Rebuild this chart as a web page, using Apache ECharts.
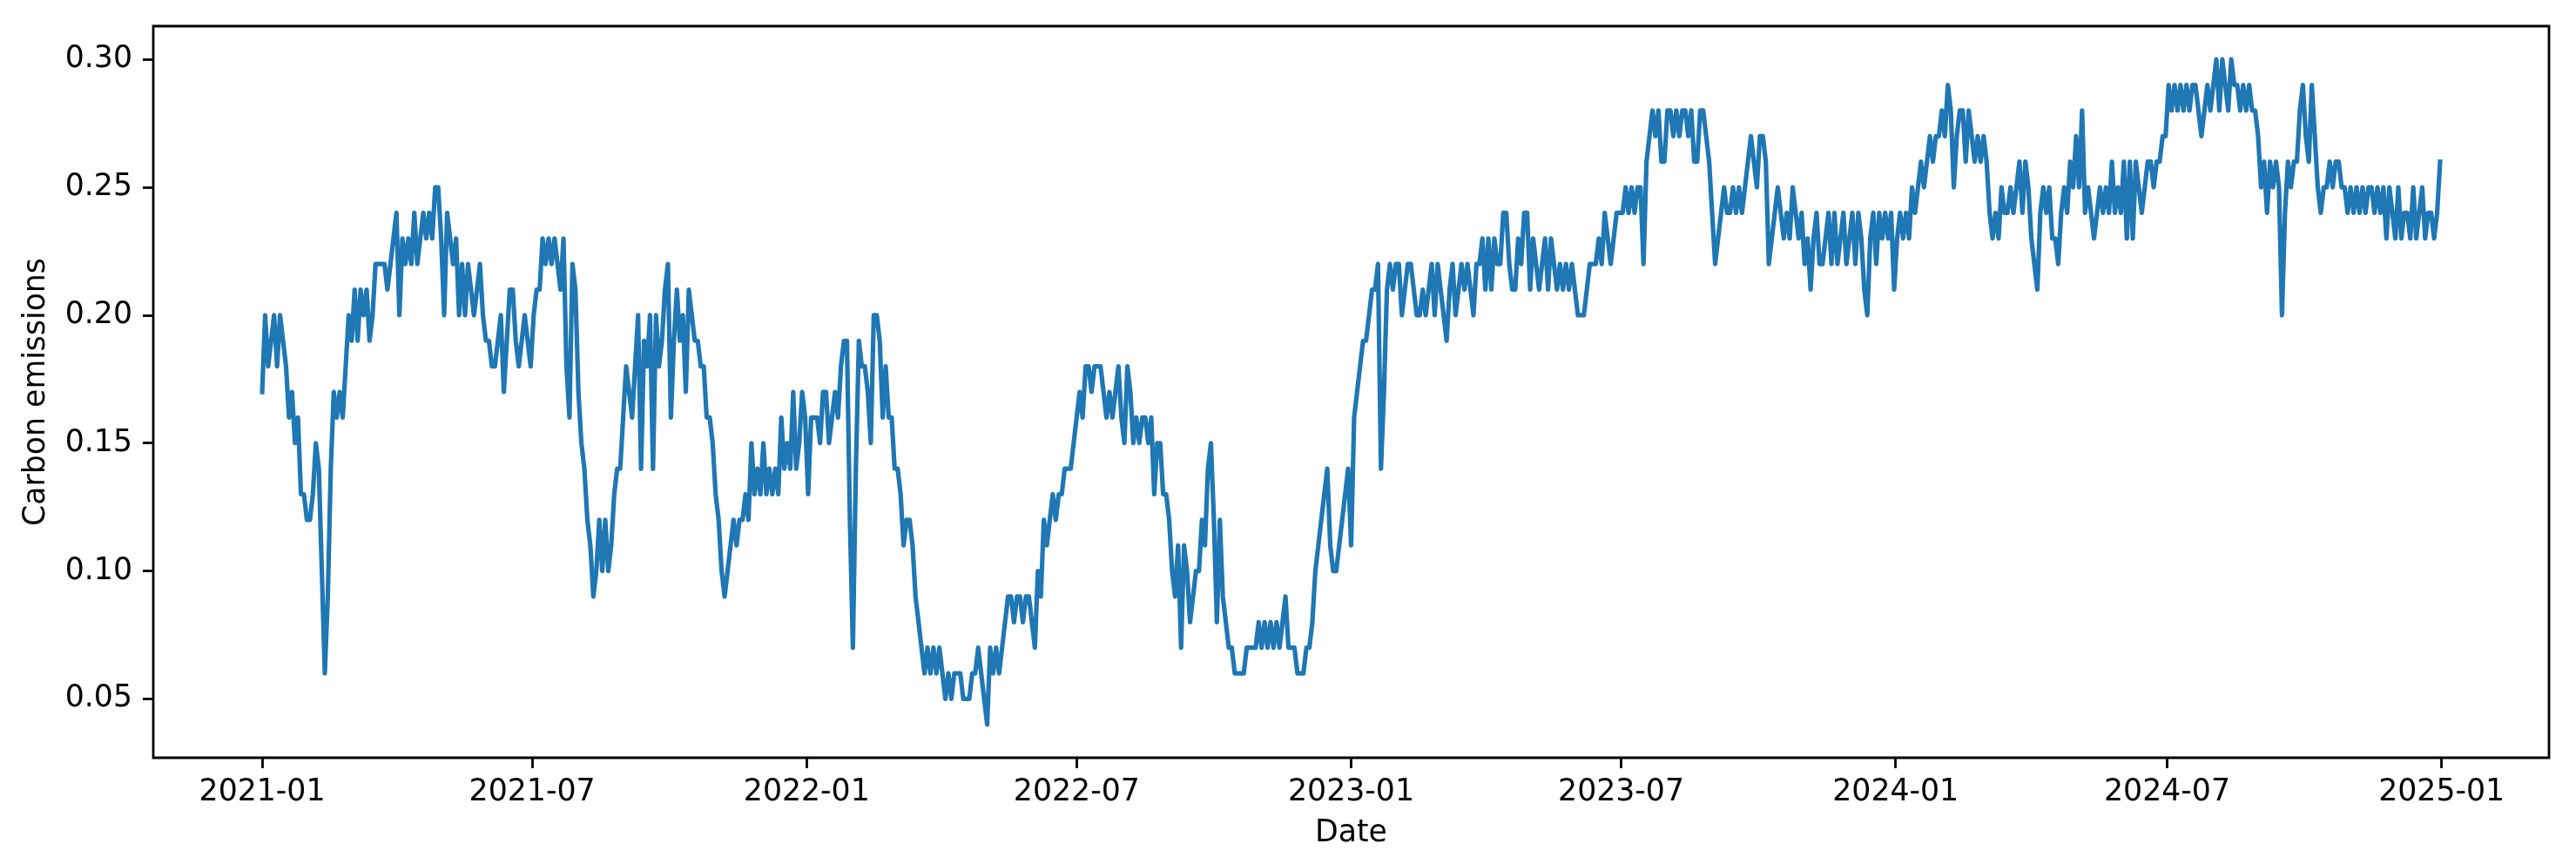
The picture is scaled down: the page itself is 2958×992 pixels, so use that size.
<!DOCTYPE html>
<html>
<head>
<meta charset="utf-8">
<title>Carbon emissions</title>
<script src="https://cdn.jsdelivr.net/npm/echarts@6/dist/echarts.min.js"></script>
<style>
  html, body { margin: 0; padding: 0; background: #fff; }
  #carbonChart { width: 2958px; height: 992px; }
</style>
</head>
<body>
<div id="carbonChart"></div>
<script>
// one value every 2 days, starting 2021-01-01
const part1 = [ // 2021-01-01 .. 2021-07-06
  0.17,0.20,0.18,0.19,0.20,0.18,0.20,0.19,0.18,0.16,
  0.17,0.15,0.16,0.13,0.13,0.12,0.12,0.13,0.15,0.14,
  0.10,0.06,0.09,0.14,0.17,0.16,0.17,0.16,0.18,0.20,
  0.19,0.21,0.19,0.21,0.20,0.21,0.19,0.20,0.22,0.22,
  0.22,0.22,0.21,0.22,0.23,0.24,0.20,0.23,0.22,0.23,
  0.22,0.24,0.22,0.23,0.24,0.23,0.24,0.23,0.25,0.25,
  0.23,0.20,0.24,0.23,0.22,0.23,0.20,0.22,0.20,0.22,
  0.21,0.20,0.21,0.22,0.20,0.19,0.19,0.18,0.18,0.19,
  0.20,0.17,0.19,0.21,0.21,0.19,0.18,0.19,0.20,0.19,
  0.18,0.20,0.21,0.21
]
const part2 = [ // 2021-07-08 .. 2022-01-08
  0.23,0.22,0.23,0.22,0.23,0.22,0.21,0.23,0.18,0.16,
  0.22,0.21,0.17,0.15,0.14,0.12,0.11,0.09,0.10,0.12,
  0.10,0.12,0.10,0.11,0.13,0.14,0.14,0.16,0.18,0.17,
  0.16,0.18,0.20,0.14,0.19,0.18,0.20,0.14,0.20,0.18,
  0.19,0.21,0.22,0.16,0.19,0.21,0.19,0.20,0.17,0.21,
  0.20,0.19,0.19,0.18,0.18,0.16,0.16,0.15,0.13,0.12,
  0.10,0.09,0.10,0.11,0.12,0.11,0.12,0.12,0.13,0.12,
  0.15,0.13,0.14,0.13,0.15,0.13,0.14,0.13,0.14,0.13,
  0.16,0.14,0.15,0.14,0.17,0.14,0.15,0.17,0.16,0.13,
  0.16,0.16,0.16
]
const part3 = [ // 2022-01-10 .. 2022-07-15
  0.15,0.17,0.17,0.15,0.16,0.17,0.16,0.18,0.19,0.19,
  0.12,0.07,0.14,0.19,0.18,0.18,0.17,0.15,0.20,0.20,
  0.19,0.16,0.18,0.16,0.16,0.14,0.14,0.13,0.11,0.12,
  0.12,0.11,0.09,0.08,0.07,0.06,0.07,0.06,0.07,0.06,
  0.07,0.06,0.05,0.06,0.05,0.06,0.06,0.06,0.05,0.05,
  0.05,0.06,0.06,0.07,0.06,0.05,0.04,0.07,0.06,0.07,
  0.06,0.07,0.08,0.09,0.09,0.08,0.09,0.09,0.08,0.09,
  0.09,0.08,0.07,0.10,0.09,0.12,0.11,0.12,0.13,0.12,
  0.13,0.13,0.14,0.14,0.14,0.15,0.16,0.17,0.16,0.18,
  0.18,0.17,0.18,0.18
]
const part4 = [ // 2022-07-17 .. 2023-01-17
  0.18,0.17,0.16,0.17,0.16,0.17,0.18,0.16,0.15,0.18,
  0.17,0.15,0.16,0.15,0.16,0.16,0.15,0.16,0.13,0.15,
  0.15,0.13,0.13,0.12,0.10,0.09,0.11,0.07,0.11,0.10,
  0.08,0.09,0.10,0.10,0.12,0.11,0.14,0.15,0.12,0.08,
  0.12,0.09,0.08,0.07,0.07,0.06,0.06,0.06,0.06,0.07,
  0.07,0.07,0.07,0.08,0.07,0.08,0.07,0.08,0.07,0.08,
  0.07,0.08,0.09,0.07,0.07,0.07,0.06,0.06,0.06,0.07,
  0.07,0.08,0.10,0.11,0.12,0.13,0.14,0.11,0.10,0.10,
  0.11,0.12,0.13,0.14,0.11,0.16,0.17,0.18,0.19,0.19,
  0.20,0.21,0.21
]
const part5 = [ // 2023-01-19 .. 2023-07-22
  0.22,0.14,0.17,0.21,0.22,0.21,0.22,0.22,0.20,0.21,
  0.22,0.22,0.21,0.20,0.20,0.21,0.20,0.21,0.22,0.20,
  0.22,0.21,0.20,0.19,0.21,0.22,0.20,0.21,0.22,0.21,
  0.22,0.21,0.20,0.22,0.22,0.23,0.21,0.23,0.21,0.23,
  0.22,0.22,0.24,0.24,0.22,0.21,0.21,0.23,0.22,0.24,
  0.24,0.21,0.23,0.22,0.21,0.22,0.23,0.21,0.23,0.22,
  0.21,0.22,0.21,0.22,0.21,0.22,0.21,0.20,0.20,0.20,
  0.21,0.22,0.22,0.22,0.23,0.22,0.24,0.23,0.22,0.23,
  0.24,0.24,0.24,0.25,0.24,0.25,0.24,0.25,0.25,0.22,
  0.26,0.27,0.28
]
const part6 = [ // 2023-07-24 .. 2024-01-26
  0.27,0.28,0.26,0.26,0.28,0.28,0.27,0.28,0.27,0.28,
  0.28,0.27,0.28,0.26,0.26,0.28,0.28,0.27,0.26,0.24,
  0.22,0.23,0.24,0.25,0.24,0.24,0.25,0.24,0.25,0.24,
  0.25,0.26,0.27,0.26,0.25,0.27,0.27,0.26,0.22,0.23,
  0.24,0.25,0.24,0.23,0.24,0.23,0.25,0.24,0.23,0.24,
  0.22,0.23,0.21,0.23,0.24,0.22,0.22,0.23,0.24,0.22,
  0.24,0.22,0.23,0.24,0.22,0.23,0.24,0.22,0.24,0.23,
  0.21,0.20,0.23,0.24,0.22,0.24,0.23,0.24,0.23,0.24,
  0.21,0.23,0.24,0.23,0.24,0.23,0.25,0.24,0.25,0.26,
  0.25,0.26,0.27,0.26
]
const part7 = [ // 2024-01-28 .. 2024-07-30
  0.27,0.27,0.28,0.27,0.29,0.28,0.25,0.27,0.28,0.28,
  0.26,0.28,0.27,0.26,0.27,0.26,0.27,0.26,0.24,0.23,
  0.24,0.23,0.25,0.24,0.24,0.25,0.24,0.25,0.26,0.24,
  0.26,0.25,0.23,0.22,0.21,0.24,0.25,0.24,0.25,0.23,
  0.23,0.22,0.24,0.25,0.24,0.26,0.25,0.27,0.25,0.28,
  0.24,0.25,0.24,0.23,0.24,0.25,0.24,0.25,0.24,0.26,
  0.24,0.25,0.24,0.26,0.23,0.26,0.23,0.26,0.25,0.24,
  0.25,0.26,0.26,0.25,0.26,0.26,0.27,0.27,0.29,0.28,
  0.29,0.28,0.29,0.28,0.29,0.28,0.29,0.29,0.28,0.27,
  0.28,0.29,0.28
]
const part8 = [ // 2024-08-01 .. 2024-12-31
  0.29,0.30,0.28,0.30,0.29,0.28,0.30,0.29,0.29,0.28,
  0.29,0.28,0.29,0.28,0.28,0.27,0.25,0.26,0.24,0.26,
  0.25,0.26,0.25,0.20,0.24,0.26,0.25,0.26,0.26,0.28,
  0.29,0.27,0.26,0.29,0.27,0.25,0.24,0.25,0.25,0.26,
  0.25,0.26,0.26,0.25,0.25,0.24,0.25,0.24,0.25,0.24,
  0.25,0.24,0.25,0.25,0.24,0.25,0.24,0.25,0.23,0.25,
  0.24,0.23,0.25,0.23,0.24,0.24,0.23,0.25,0.23,0.24,
  0.25,0.23,0.24,0.24,0.23,0.24,0.26
]

const xTickLabels = ['2021-01', '2021-07', '2022-01', '2022-07', '2023-01', '2023-07', '2024-01', '2024-07', '2025-01']
const yTickValues = [0.05, 0.10, 0.15, 0.20, 0.25, 0.30]

const DAY = 86400000
const startDate = Date.UTC(2021, 0, 1)
const stepDays = 2

const values = [].concat(part1, part2, part3, part4, part5, part6, part7, part8)
const seriesData = values.map((v, i) => [startDate + i * stepDays * DAY, v])

// matplotlib style 5% margins around the data
const firstDate = seriesData[0][0]
const lastDate = seriesData[seriesData.length - 1][0]
const xPad = (lastDate - firstDate) * 0.05
const yMin = Math.min(...values)
const yMax = Math.max(...values)
const yPad = (yMax - yMin) * 0.05

const xTickValues = xTickLabels.map(s => {
  const [y, m] = s.split('-').map(Number)
  return Date.UTC(y, m - 1, 1)
})

const FONT = 'DejaVu Sans'
const FONT_SIZE = 34.7
const INK = '#000'

const chart = echarts.init(document.getElementById('carbonChart'))
const option = {
  animation: false,
  backgroundColor: '#fff',
  textStyle: { fontFamily: FONT },
  grid: {
    left: 176,
    right: 31,
    top: 30,
    bottom: 122,
    show: true,
    borderColor: INK,
    borderWidth: 2.8,
    backgroundColor: 'transparent'
  },
  // dates kept as plain timestamps on a value axis so the tick positions can be fixed
  xAxis: {
    type: 'value',
    min: firstDate - xPad,
    max: lastDate + xPad,
    name: 'Date',
    nameLocation: 'middle',
    nameGap: 69,
    nameTextStyle: { fontFamily: FONT, fontSize: FONT_SIZE, color: INK },
    axisLine: { show: false },
    splitLine: { show: false },
    axisTick: {
      show: true,
      customValues: xTickValues,
      length: 12,
      lineStyle: { color: INK, width: 2.8 }
    },
    axisLabel: {
      customValues: xTickValues,
      margin: 22,
      fontFamily: FONT,
      fontSize: FONT_SIZE,
      color: INK,
      formatter: function (value) {
        const idx = xTickValues.indexOf(value)
        return idx >= 0 ? xTickLabels[idx] : ''
      }
    }
  },
  yAxis: {
    type: 'value',
    min: yMin - yPad,
    max: yMax + yPad,
    name: 'Carbon emissions',
    nameLocation: 'middle',
    nameRotate: 90,
    nameGap: 117,
    nameTextStyle: { fontFamily: FONT, fontSize: FONT_SIZE, color: INK },
    axisLine: { show: false },
    splitLine: { show: false },
    axisTick: {
      show: true,
      customValues: yTickValues,
      length: 12,
      lineStyle: { color: INK, width: 2.8 }
    },
    axisLabel: {
      customValues: yTickValues,
      margin: 24,
      fontFamily: FONT,
      fontSize: FONT_SIZE,
      color: INK,
      formatter: function (value) {
        return value.toFixed(2)
      }
    }
  },
  series: [
    {
      name: 'Carbon emissions',
      type: 'line',
      data: seriesData,
      showSymbol: false,
      symbol: 'none',
      lineStyle: { color: '#1f77b4', width: 5.2, join: 'round', cap: 'square' }
    }
  ]
}
chart.setOption(option)
</script>
</body>
</html>
